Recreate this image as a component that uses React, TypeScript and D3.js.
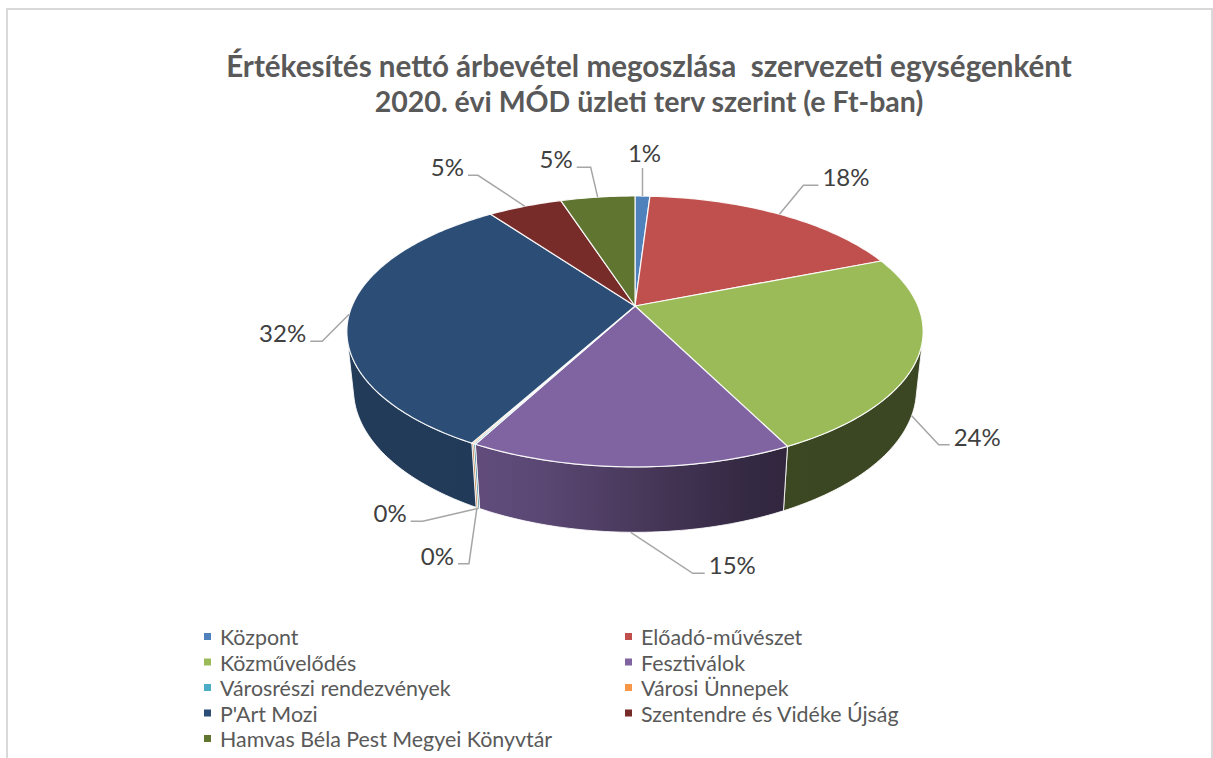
import React from "react";
import * as d3 from "d3";

// chart data (percent of total net revenue)
const categories = [
  "Központ",
  "Előadó-művészet",
  "Közművelődés",
  "Fesztiválok",
  "Városrészi rendezvények",
  "Városi Ünnepek",
  "P'Art Mozi",
  "Szentendre és Vidéke Újság",
  "Hamvas Béla Pest Megyei Könyvtár",
];
const values = [1.0, 18.0, 23.6, 15.2, 0.1, 0.1, 32.0, 5.0, 5.0];
const colors = [
  "#4F81BD",
  "#C0504D",
  "#9BBB59",
  "#8064A2",
  "#4BACC6",
  "#F79646",
  "#2C4D75",
  "#772C2A",
  "#5F7530",
];
const titleLines = [
  "Értékesítés nettó árbevétel megoszlása  szervezeti egységenként",
  "2020. évi MÓD üzleti terv szerint (e Ft-ban)",
];

// leader line layout: elbow offset from anchor, then horizontal run
const labelLayout = [
  { dx: 0, dy: -28, hx: 0 },
  { dx: 24, dy: -29, hx: 15 },
  { dx: 27, dy: 29, hx: 11 },
  { dx: 62, dy: 41, hx: 12 },
  { dx: -56, dy: 13, hx: -12 },
  { dx: -8, dy: 56, hx: -11 },
  { dx: -27, dy: 27, hx: -12 },
  { dx: -47, dy: -31, hx: -10 },
  { dx: -7, dy: -30, hx: -14 },
];

const W = 1213;
const H = 758;

// simple perspective projection of a tilted disc
const cx = 635;
const cy = 306;
const K = 283;
const elev = (27.5 * Math.PI) / 180;
const sinE = Math.sin(elev);
const cosE = Math.cos(elev);
const dist = 4.72;
const depth = 0.232;

// r: radius (0..1), a: angle clockwise from the far side, h: height
const project = (a: number, h: number, r = 1): [number, number] => {
  const x = r * Math.sin(a);
  const z = r * Math.cos(a);
  const Y = z * sinE + h * cosE;
  const toward = -z * cosE + h * sinE;
  const s = dist / (dist - toward);
  return [cx + K * x * s, cy - K * Y * s];
};

// side wall faces the camera when cos(a) < -1 / (dist * cosE)
const visLimit = Math.acos(-1 / (dist * cosE));
const visMin = visLimit;
const visMax = 2 * Math.PI - visLimit;

const sideFactor = (a: number) => {
  const deg = (a * 180) / Math.PI;
  let t = Math.max(0, Math.min(1, (deg - 150) / 60));
  t = t * t * (3 - 2 * t);
  return 0.38 + 0.38 * t;
};

const shade = (c: string, f: number) => {
  const r = d3.rgb(c);
  return d3.rgb(r.r * f, r.g * f, r.b * f).formatHex();
};

const arcPoints = (a0: number, a1: number, h: number) => {
  const n = Math.max(2, Math.ceil(((a1 - a0) * 180) / Math.PI));
  return d3.range(n + 1).map((i) => project(a0 + ((a1 - a0) * i) / n, h));
};

const line = d3.line();

export default function App() {
  const total = d3.sum(values);
  const pie = d3
    .pie<number>()
    .sort(null)
    .value((d) => d)
    .startAngle(0)
    .endAngle(2 * Math.PI);
  const arcs = pie(values);

  const sides = arcs
    .map((d, i) => {
      const a0 = Math.max(d.startAngle, visMin);
      const a1 = Math.min(d.endAngle, visMax);
      if (a1 - a0 < 1e-4) return null;
      const top = arcPoints(a0, a1, 0);
      const bottom = arcPoints(a0, a1, -depth).reverse();
      const x1 = project(a0, 0)[0];
      const x2 = project(a1, 0)[0];
      const stops = d3.range(9).map((k) => {
        const a = a0 + ((a1 - a0) * k) / 8;
        const off = Math.abs(x2 - x1) < 1e-6 ? 0 : (project(a, 0)[0] - x1) / (x2 - x1);
        return { off, color: shade(colors[i], sideFactor(a)) };
      });
      return { i, path: line([...top, ...bottom]) + "Z", x1, x2, stops };
    })
    .filter((s) => s !== null) as any[];

  const tops = arcs.map((d, i) => {
    if (d.endAngle - d.startAngle < 1e-6) return null;
    const pts = [project(0, 0, 0)].concat(arcPoints(d.startAngle, d.endAngle, 0));
    return { i, path: line(pts) + "Z" };
  });

  const labels = arcs.map((d, i) => {
    const mid = (d.startAngle + d.endAngle) / 2;
    const onSide = mid > visMin && mid < visMax;
    const anchor = project(mid, onSide ? -depth : 0);
    const L = labelLayout[i];
    const elbow: [number, number] = [anchor[0] + L.dx, anchor[1] + L.dy];
    const end: [number, number] = [elbow[0] + L.hx, elbow[1]];
    const pct = Math.round((d.value / total) * 100) + "%";
    let tx = end[0];
    let anchorText = "middle";
    let ty = end[1] + 1;
    if (L.hx > 0) {
      tx = end[0] + 4;
      anchorText = "start";
    } else if (L.hx < 0) {
      tx = end[0] - 4;
      anchorText = "end";
    } else {
      ty = end[1] - 6;
      tx = end[0] + 2;
    }
    return { i, pts: [anchor, elbow, end], pct, tx, ty, anchorText };
  });

  const legendRowH = 25.5;

  return (
    <svg
      width={W}
      height={H}
      style={{ position: "absolute", left: 0, top: 0 }}
      fontFamily="Lato, 'Noto Sans', sans-serif"
    >
      <defs>
        {sides.map((s) => (
          <linearGradient
            key={s.i}
            id={"side" + s.i}
            gradientUnits="userSpaceOnUse"
            x1={s.x1}
            x2={s.x2}
            y1={0}
            y2={0}
          >
            {s.stops.map((st: any, k: number) => (
              <stop key={k} offset={st.off} stopColor={st.color} />
            ))}
          </linearGradient>
        ))}
      </defs>
      <rect x={0} y={0} width={W} height={H} fill="#fff" />
      <rect
        x={7}
        y={9}
        width={1205}
        height={770}
        fill="#fff"
        stroke="#D9D9D9"
        strokeWidth={2}
      />

      {titleLines.map((t, k) => (
        <text
          key={k}
          x={649}
          y={77 + k * 35}
          textAnchor="middle"
          fontSize={k === 0 ? 29.6 : 28.5}
          fontWeight="bold"
          fill="#595959"
          style={{ whiteSpace: "pre" }}
        >
          {t}
        </text>
      ))}

      <g>
        {sides.map((s) => (
          <path
            key={s.i}
            d={s.path}
            fill={`url(#side${s.i})`}
            stroke="#ffffff"
            strokeOpacity={0.85}
            strokeWidth={1}
            strokeLinejoin="round"
          />
        ))}
        {tops.map((t) =>
          t ? (
            <path
              key={t.i}
              d={t.path}
              fill={colors[t.i]}
              stroke="#ffffff"
              strokeOpacity={0.9}
              strokeWidth={1.2}
              strokeLinejoin="round"
            />
          ) : null
        )}
      </g>

      <g>
        {labels.map((l) => (
          <g key={l.i}>
            <path
              d={line(l.pts as [number, number][]) || ""}
              fill="none"
              stroke="#A6A6A6"
              strokeWidth={1.5}
            />
            <text
              x={l.tx}
              y={l.ty}
              textAnchor={l.anchorText}
              fontSize={24}
              fill="#404040"
            >
              {l.pct}
            </text>
          </g>
        ))}
      </g>

      <g>
        {categories.map((c, i) => {
          const col = i % 2;
          const row = Math.floor(i / 2);
          const x = col === 0 ? 204 : 625;
          const y = 637 + row * legendRowH;
          return (
            <g key={c}>
              <rect x={x} y={y - 4} width={7} height={7} fill={colors[i]} />
              <text
                x={x + 16}
                y={y}
                dominantBaseline="central"
                fontSize={21.4}
                fill="#595959"
              >
                {c}
              </text>
            </g>
          );
        })}
      </g>
    </svg>
  );
}
